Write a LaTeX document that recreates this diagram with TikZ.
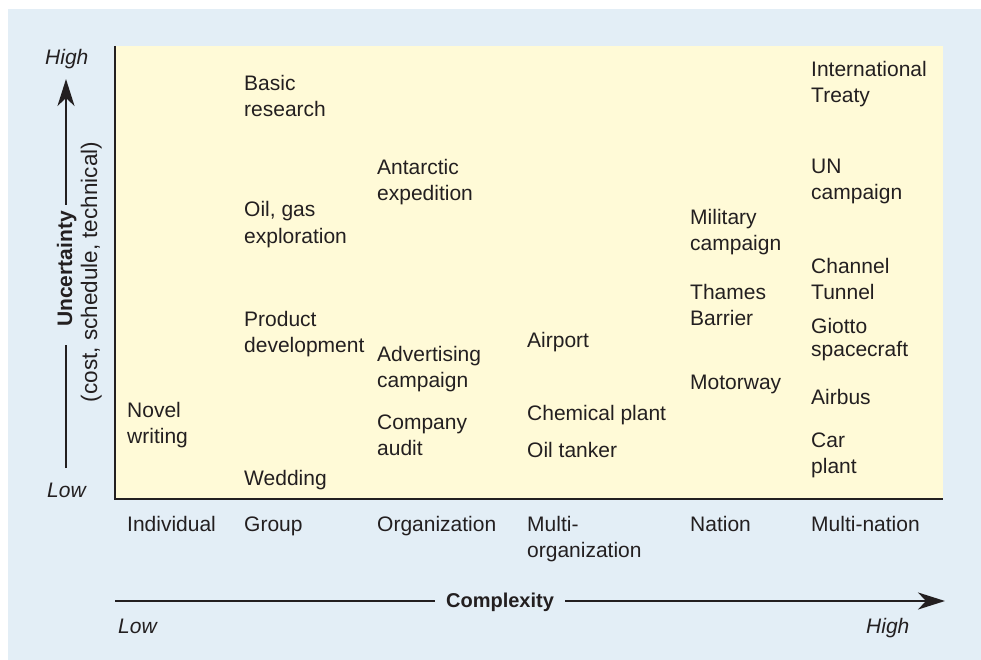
\documentclass[tikz,border=0pt]{standalone}
\usepackage{fontspec}
\setmainfont{Liberation Sans}
\usetikzlibrary{arrows.meta}
\definecolor{ink}{HTML}{231F20}
\definecolor{panel}{HTML}{E3EEF6}
\definecolor{field}{HTML}{FFFAD7}
\begin{document}
\begin{tikzpicture}[
  x=1pt, y=-1pt,
  item/.style={anchor=base west, inner sep=0pt, align=left, text=ink,
    font=\fontsize{21}{26}\selectfont},
  axistext/.style={item, font=\fontsize{21}{26}\selectfont\itshape},
  axisline/.style={draw=ink, line width=2.4pt},
  tip/.style={-{Stealth[length=27pt, width=17pt, inset=8pt]}}
]
% background
\useasboundingbox (0,0) rectangle (981,660);
\fill[white] (0,0) rectangle (981,660);
\fill[panel] (8,9) rectangle (981,660);
\fill[field] (115,46) rectangle (943,499);
\draw[draw=ink, line width=1.6pt] (115,46) -- (115,499) -- (943,499);

% uncertainty axis
\node[axistext] (yhigh) at (45,65) {High};
\node[axistext] (ylow) at (47,497) {Low};
\node[rotate=90, anchor=base, inner sep=0pt, text=ink,
  font=\fontsize{21}{26}\selectfont\bfseries] (uncert) at (72,269) {Uncertainty};
\node[rotate=90, anchor=base, inner sep=0pt, text=ink,
  font=\fontsize{22.5}{26}\selectfont] (ucause) at (97,272) {(cost, schedule, technical)};
\coordinate (ubot) at (66,468);
\coordinate (ugap1) at (66,345);
\coordinate (ugap2) at (66,205);
\coordinate (utop) at (66,79);
\draw[axisline] (ubot) -- (ugap1);
\draw[axisline, tip] (ugap2) -- (utop);

% complexity axis
\node[axistext] (xlowtext) at (118,633) {Low};
\node[axistext] (xhightext) at (866,633) {High};
\node[anchor=base, inner sep=0pt, text=ink,
  font=\fontsize{20}{26}\selectfont\bfseries] (complex) at (500,607) {Complexity};
\coordinate (xbeg) at (115,601);
\coordinate (xgap1) at (435,601);
\coordinate (xgap2) at (565,601);
\coordinate (xend) at (945,601);
\draw[axisline] (xbeg) -- (xgap1);
\draw[axisline, tip] (xgap2) -- (xend);

% column labels (base = last line)
\node[item] (individual) at (127,531) {Individual};
\node[item] (group) at (244,531) {Group};
\node[item] (organization) at (377,531) {Organization};
\node[item] (multiorg) at (527,557) {Multi-\\organization};
\node[item] (nation) at (690,531) {Nation};
\node[item] (multination) at (811,531) {Multi-nation};

% projects (base = last line)
\node[item] (novel) at (127,443) {Novel\\writing};
\node[item] (basic) at (244,117) {Basic\\research};
\node[item] (oilgas) at (244,243) {Oil, gas\\exploration};
\node[item] (product) at (244,352) {Product\\development};
\node[item] (wedding) at (244,485) {Wedding};
\node[item] (antarctic) at (377,201) {Antarctic\\expedition};
\node[item] (advert) at (377,387) {Advertising\\campaign};
\node[item] (audit) at (377,455) {Company\\audit};
\node[item] (airport) at (527,347) {Airport};
\node[item] (chemical) at (527,420) {Chemical plant};
\node[item] (tanker) at (527,457) {Oil tanker};
\node[item] (military) at (690,250) {Military\\campaign};
\node[item] (thames) at (690,325) {Thames\\Barrier};
\node[item] (motorway) at (690,389) {Motorway};
\node[item] (treaty) at (811,103) {International\\Treaty};
\node[item] (uncamp) at (811,200) {UN\\campaign};
\node[item] (channel) at (811,299) {Channel\\Tunnel};
\node[item] (giotto) at (811,356) {Giotto\\[-3pt]spacecraft};
\node[item] (airbus) at (811,404) {Airbus};
\node[item] (carplant) at (811,473) {Car\\plant};
\end{tikzpicture}
\end{document}
